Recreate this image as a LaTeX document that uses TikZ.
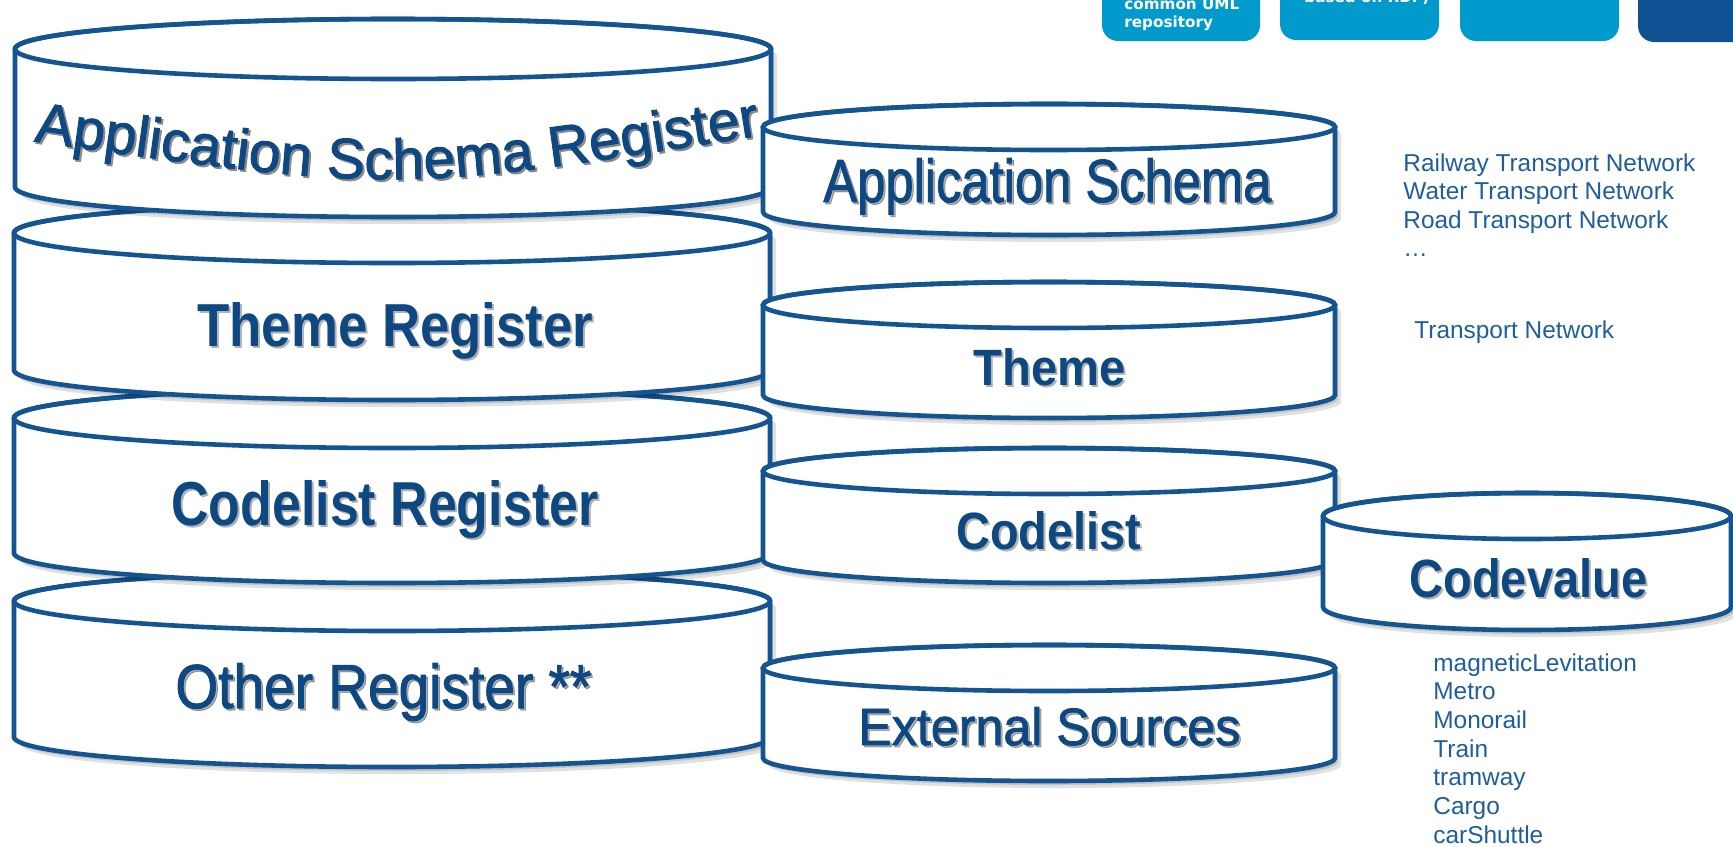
\documentclass[tikz,border=0pt]{standalone}
\usepackage{fontspec}
\setmainfont{Liberation Sans}
\newfontfamily\boxfont{DejaVu Sans}
\newfontfamily\lblfont{Liberation Sans}[FakeBold=1.6]
\newfontfamily\lblfontb{Liberation Sans Bold}
\usepackage{graphicx}
\usetikzlibrary{decorations.text}
\definecolor{linecol}{RGB}{20,84,145}
\definecolor{labelcol}{RGB}{14,72,130}
\definecolor{sidecol}{RGB}{31,94,158}
\definecolor{boxlight}{RGB}{0,155,204}
\definecolor{boxdark}{RGB}{15,82,148}
\tikzset{
  cylline/.style={draw=linecol, line width=2.3pt, fill=white},
  cylshadow/.style={fill=black, opacity=0.12},
  lbl/.style={inner sep=0pt, anchor=base west, text=labelcol},
  lblshadow/.style={inner sep=0pt, anchor=base west, text=black, opacity=0.3},
  sidetxt/.style={inner sep=0pt, anchor=base west, text=sidecol, font=\fontsize{12.2}{14}\selectfont},
  boxtxt/.style={inner sep=0pt, anchor=base west, text=white, font=\boxfont\bfseries\fontsize{7.6}{8}\selectfont},
  tilebox/.style={rounded corners=8}
}
% name, cx, ytop, ybot, rx, ry
\newcommand\cyl[6]{%
  \coordinate (#1) at (#2,#3);
  \foreach \s in {3,6}{\fill[cylshadow, shift={(\s,\s+1)}] ({#2-#5},#3) -- ({#2-#5},#4) arc[start angle=180,end angle=0,x radius=#5,y radius=#6] -- ({#2+#5},#3) arc[start angle=0,end angle=-180,x radius=#5,y radius=#6] -- cycle;}
  \path[cylline] ({#2-#5},#3) -- ({#2-#5},#4) arc[start angle=180,end angle=0,x radius=#5,y radius=#6] -- ({#2+#5},#3) arc[start angle=0,end angle=-180,x radius=#5,y radius=#6] -- cycle;
  \draw[draw=linecol, line width=2.3pt] (#2,#3) ellipse[x radius=#5, y radius=#6];
}
% name, x, baseline, width(pt), height(pt), font, text
\newcommand\lbl[7]{%
  \node[lblshadow] at ({#2+2},{#3+2}) {\resizebox{#4pt}{#5pt}{#6#7}};
  \node[lbl] (#1) at (#2,#3) {\resizebox{#4pt}{#5pt}{#6#7}};
}
\begin{document}
\begin{tikzpicture}[x=0.5pt, y=-0.5pt]
\useasboundingbox (0,0) rectangle (1733,846);
\clip (0,0) rectangle (1733,846);
\fill[white] (0,0) rectangle (1733,846);

% top tiles
\fill[boxlight, tilebox] (1102,-30) rectangle (1260,41);
\fill[boxlight, tilebox] (1280,-30) rectangle (1439,40);
\fill[boxlight, tilebox] (1460,-30) rectangle (1619,41);
\fill[boxdark, tilebox] (1638,-30) rectangle (1780,42);
\node[boxtxt] (t1a) at (1124,10) {common UML};
\node[boxtxt] (t1b) at (1124,27) {repository};
\node[boxtxt] (t2a) at (1304,2.5) {based on RDF)};

% left stack (bottom first)
\cyl{oreg}{392}{601}{737}{378}{30}
\cyl{creg}{392}{418}{553}{378}{30}
\cyl{treg}{392}{233}{370}{378}{30}
\cyl{asreg}{393}{49}{187}{378}{30}

% right column
\cyl{as}{1049}{127}{212}{286}{23}
\cyl{th}{1049}{305}{395}{286}{23}
\cyl{cl}{1049}{471}{560}{286}{23}
\cyl{ext}{1049}{668}{758}{286}{23}
\cyl{cv}{1527}{516}{607}{204}{23}

% curved label
\coordinate (asrlbl) at (397,160);
\path[decorate, decoration={text along path, text align=center, text color=black!45,
  text={|\lblfont\fontsize{28.5}{28.5}\selectfont|Application Schema Register}}]
  (33,143) .. controls (399,195) .. (765,137);
\path[decorate, decoration={text along path, text align=center, text color=labelcol,
  text={|\lblfont\fontsize{28.5}{28.5}\selectfont|Application Schema Register}}]
  (31,141) .. controls (397,193) .. (763,135);

\lbl{ltr}{197}{346}{198}{22}{\lblfontb}{Theme Register}
\lbl{lcr}{171}{525}{213.5}{22.5}{\lblfontb}{Codelist Register}
\lbl{lor}{175}{708}{208}{22.5}{\lblfont}{Other Register **}
\lbl{las}{823}{202}{224}{22}{\lblfont}{Application Schema}
\lbl{lth}{973}{385}{76}{18.5}{\lblfontb}{Theme}
\lbl{lcl}{956}{549}{92.5}{19}{\lblfontb}{Codelist}
\lbl{lext}{858}{745}{191}{19}{\lblfont}{External Sources}
\lbl{lcv}{1409}{597}{119}{19.5}{\lblfontb}{Codevalue}

% side texts
\node[sidetxt] (s1) at (1403,171) {Railway Transport Network};
\node[sidetxt] (s2) at (1403,199.5) {Water Transport Network};
\node[sidetxt] (s3) at (1403,228) {Road Transport Network};
\node[sidetxt] (s4) at (1403,256.5) {…};
\node[sidetxt] (s5) at (1414,338) {Transport Network};

\node[sidetxt] (v1) at (1433,671) {magneticLevitation};
\node[sidetxt] (v2) at (1433,699.7) {Metro};
\node[sidetxt] (v3) at (1433,728.4) {Monorail};
\node[sidetxt] (v4) at (1433,757.1) {Train};
\node[sidetxt] (v5) at (1433,785.8) {tramway};
\node[sidetxt] (v6) at (1433,814.5) {Cargo};
\node[sidetxt] (v7) at (1433,843.2) {carShuttle};
\end{tikzpicture}
\end{document}
